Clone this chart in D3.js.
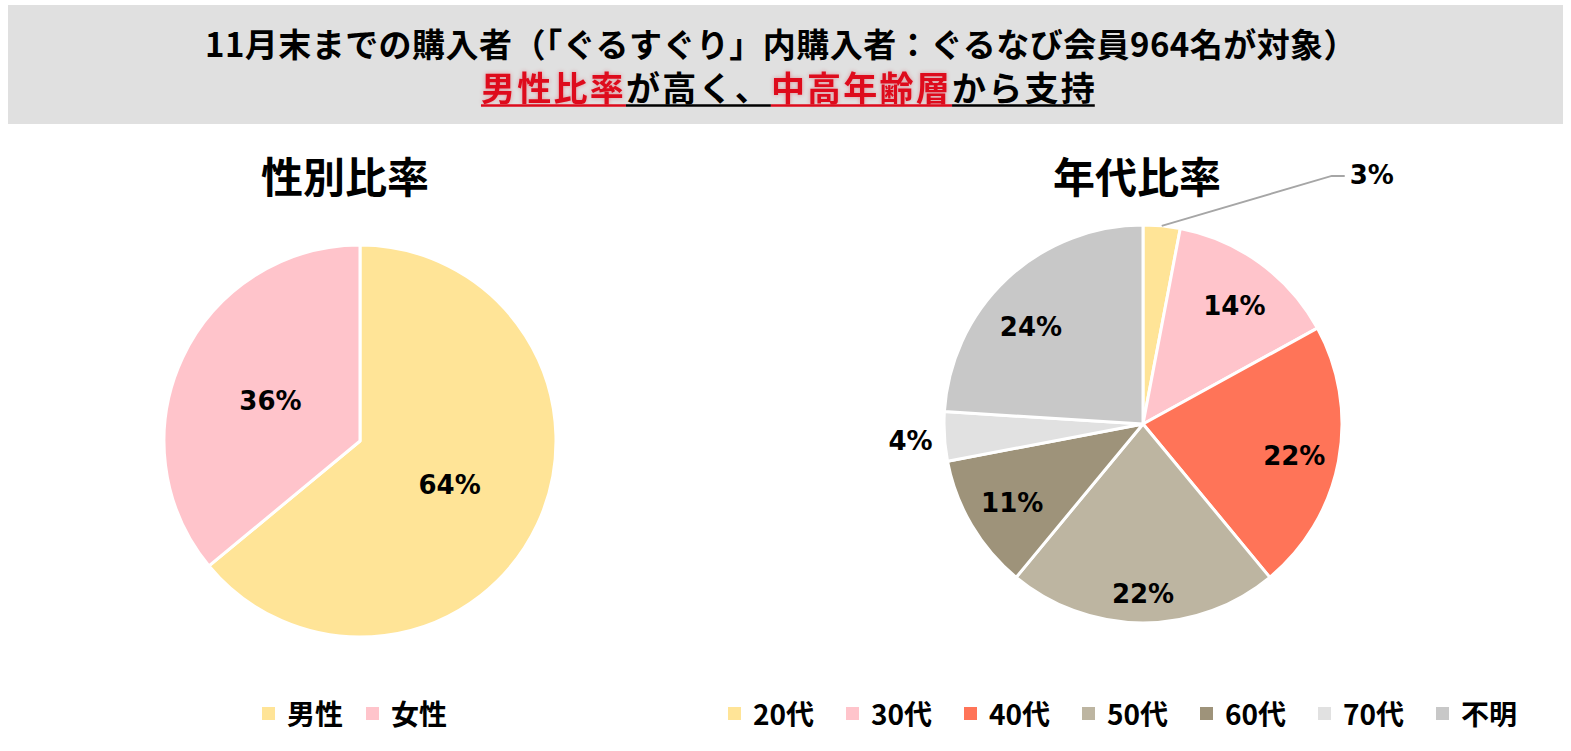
<!DOCTYPE html>
<html>
<head>
<meta charset="utf-8">
<script src="https://cdn.jsdelivr.net/npm/d3@7"></script>
<style>
  body { margin: 0; background: #fff; }
  text { font-family: "Noto Sans CJK JP", sans-serif; }
  .pct { font-family: "DejaVu Sans", Verdana, sans-serif; font-weight: bold; font-size: 26px; }
</style>
</head>
<body>
<svg id="chart" width="1571" height="751"></svg>
<script>
// data
var genderLabels = ["男性", "女性"];
var genderValues = [64, 36];
var genderColors = ["#FFE497", "#FFC4CB"];

var ageLabels = ["20代", "30代", "40代", "50代", "60代", "70代", "不明"];
var ageValues = [3, 14, 22, 22, 11, 4, 24];
var ageColors = ["#FFE497", "#FFC4CB", "#FF7458", "#BDB5A1", "#9E937A", "#E1E1E1", "#C8C8C8"];

var headline = "11月末までの購入者（「ぐるすぐり」内購入者：ぐるなび会員964名が対象）";
var subParts = [
  { t: "男性比率", red: true },
  { t: "が高く、", red: false },
  { t: "中高年齢層", red: true },
  { t: "から支持", red: false }
];

var RED = "#DE0B1C";
var svg = d3.select("#chart");

// header band
svg.append("rect")
  .attr("x", 8).attr("y", 5)
  .attr("width", 1555).attr("height", 119)
  .attr("fill", "#E0E0E0");

// fit a text element to a target width with letter-spacing
function fitWidth(sel, target) {
  var node = sel.node();
  var n = node.getNumberOfChars();
  var w = node.getComputedTextLength();
  sel.attr("letter-spacing", (target - w) / n);
}

var h1 = svg.append("text")
  .attr("x", 781).attr("y", 43)
  .attr("text-anchor", "middle")
  .attr("dominant-baseline", "central")
  .attr("font-size", 33).attr("font-weight", 700)
  .attr("fill", "#000")
  .text(headline);
fitWidth(h1, 1152);

var h2 = svg.append("text")
  .attr("x", 789).attr("y", 86)
  .attr("text-anchor", "middle")
  .attr("dominant-baseline", "central")
  .attr("font-size", 34).attr("font-weight", 700);
h2.selectAll("tspan")
  .data(subParts)
  .enter().append("tspan")
  .attr("fill", function(d) { return d.red ? RED : "#000"; })
  .style("filter", function(d) { return d.red ? "drop-shadow(0 0 2px rgba(222,11,28,0.35))" : null; })
  .text(function(d) { return d.t; });
fitWidth(h2, 616);

// underline per segment
var h2node = h2.node();
var ci = 0;
subParts.forEach(function(p) {
  var s = ci, e = ci + p.t.length - 1;
  var x0 = h2node.getStartPositionOfChar(s).x;
  var x1 = h2node.getEndPositionOfChar(e).x;
  if (e === h2node.getNumberOfChars() - 1) x1 -= +h2.attr("letter-spacing");
  svg.append("line")
    .attr("x1", x0).attr("x2", x1)
    .attr("y1", 105.5).attr("y2", 105.5)
    .attr("stroke", p.red ? RED : "#000")
    .attr("stroke-width", 2.5);
  ci += p.t.length;
});

// chart titles
svg.append("text")
  .attr("x", 345).attr("y", 174)
  .attr("text-anchor", "middle").attr("dominant-baseline", "central")
  .attr("font-size", 42).attr("font-weight", 700)
  .text("性別比率");

svg.append("text")
  .attr("x", 1137).attr("y", 174)
  .attr("text-anchor", "middle").attr("dominant-baseline", "central")
  .attr("font-size", 42).attr("font-weight", 700)
  .text("年代比率");

var pie = d3.pie().sort(null).value(function(d) { return d; });

function drawPie(opts) {
  var g = svg.append("g").attr("transform", "translate(" + opts.cx + "," + opts.cy + ")");
  var arc = d3.arc().innerRadius(0).outerRadius(opts.r);
  var arcs = pie(opts.values);

  g.selectAll("path.slice")
    .data(arcs)
    .enter().append("path")
    .attr("class", "slice")
    .attr("d", arc)
    .attr("fill", function(d, i) { return opts.colors[i]; })
    .attr("stroke", "#fff")
    .attr("stroke-width", 3)
    .attr("stroke-linejoin", "round");

  arcs.forEach(function(d, i) {
    var name = opts.labels[i];
    var mid = (d.startAngle + d.endAngle) / 2;
    var mode = (opts.modes && opts.modes[name]) || "inside";
    var nudge = (opts.nudge && opts.nudge[name]) || [0, 0];
    var txt = d.value + "%";
    if (mode === "callout") {
      var sx = opts.r * Math.sin(mid), sy = -opts.r * Math.cos(mid);
      var ex = sx + 170, ey = sy - 50;
      g.append("polyline")
        .attr("points", [[sx, sy], [ex, ey], [ex + 13, ey]].map(function(p) { return p.join(","); }).join(" "))
        .attr("fill", "none")
        .attr("stroke", "#A6A6A6")
        .attr("stroke-width", 2);
      g.append("text").attr("class", "pct")
        .attr("x", ex + 18).attr("y", ey - 1)
        .attr("dominant-baseline", "central")
        .text(txt);
    } else {
      var lr = mode === "outside" ? opts.r + 34 : (opts.labelR[name] || opts.labelR._);
      g.append("text").attr("class", "pct")
        .attr("x", lr * Math.sin(mid) + nudge[0]).attr("y", -lr * Math.cos(mid) + 2 + nudge[1])
        .attr("text-anchor", "middle")
        .attr("dominant-baseline", "central")
        .text(txt);
    }
  });
}

drawPie({
  cx: 360, cy: 441, r: 196,
  values: genderValues, labels: genderLabels, colors: genderColors,
  labelR: { _: 99 }
});

drawPie({
  cx: 1143, cy: 424, r: 199,
  values: ageValues, labels: ageLabels, colors: ageColors,
  labelR: { _: 152, "50代": 168 },
  modes: { "20代": "callout", "70代": "outside" },
  nudge: { "不明": [-8, 12], "30代": [2, 3], "40代": [2, 2] }
});

// legends
function drawLegend(x0, step, labels, colors) {
  var lg = svg.append("g");
  labels.forEach(function(name, i) {
    var x = x0 + i * step;
    lg.append("rect")
      .attr("x", x).attr("y", 707)
      .attr("width", 13).attr("height", 13)
      .attr("fill", colors[i]);
    lg.append("text")
      .attr("x", x + 25).attr("y", 713)
      .attr("dominant-baseline", "central")
      .attr("font-size", 28).attr("font-weight", 700)
      .text(name);
  });
}
drawLegend(262, 104, genderLabels, genderColors);
drawLegend(728, 118, ageLabels, ageColors);
</script>
</body>
</html>
